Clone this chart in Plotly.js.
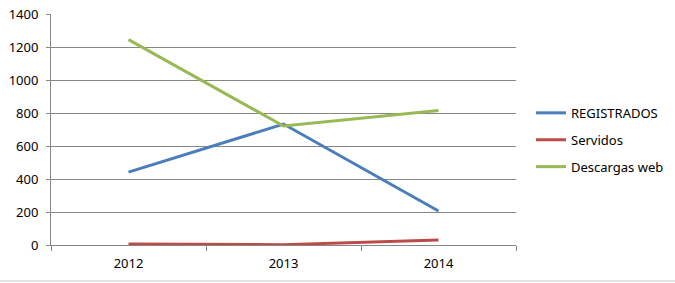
<!DOCTYPE html>
<html><head><meta charset="utf-8">
<script src="https://cdn.plot.ly/plotly-3.0.1.min.js"></script>
<style>html,body{margin:0;padding:0;background:#fff}#c{width:675px;height:283px}</style>
</head><body><div id="c"></div>
<script>
const years = ['2012', '2013', '2014'];
const registrados = [442, 733, 206];
const servidos = [6, 2, 30];
const descargas = [1245, 721, 815];
const seriesNames = ['REGISTRADOS', 'Servidos', 'Descargas web'];
const yTicks = [0, 200, 400, 600, 800, 1000, 1200, 1400];

const colors = ['#4A7EBB', '#BE4B48', '#98B954'];
const vals = [registrados, servidos, descargas];
const traces = vals.map((v, i) => ({
  type: 'scatter', mode: 'lines', x: years, y: v, name: seriesNames[i],
  legendgroup: 'g' + i,
  line: {color: colors[i], width: 3}
}));
const W = 675, H = 283, ml = 51, mr = 159, mt = 14, mb = 38;
const pw = W - ml - mr, ph = H - mt - mb;
const layout = {
  width: W, height: H,
  margin: {l: ml, r: mr, t: mt, b: mb, pad: 0, autoexpand: false},
  paper_bgcolor: '#fff', plot_bgcolor: '#fff',
  font: {family: 'Noto Sans, Liberation Sans, sans-serif', size: 13, color: '#000'},
  showlegend: true,
  legend: {x: (531 - ml) / pw, xanchor: 'left', y: 0.455, yanchor: 'middle',
    traceorder: 'grouped', tracegroupgap: 7, font: {size: 13, color: '#000'},
    bgcolor: 'rgba(0,0,0,0)', itemwidth: 30},
  xaxis: {type: 'category', range: [-0.5, 2.5], showgrid: false, zeroline: false,
    showline: true, linecolor: '#868686', linewidth: 1,
    ticks: 'outside', tickson: 'boundaries', ticklen: 5, tickcolor: '#868686',
    ticklabelstandoff: 6, tickfont: {size: 13}, fixedrange: true},
  yaxis: {range: [0, 1400], tickvals: yTicks, ticktext: yTicks.map(String),
    showgrid: true, gridcolor: '#868686', gridwidth: 1, zeroline: false,
    showline: true, linecolor: '#868686', linewidth: 1,
    ticks: 'outside', ticklen: 4, tickcolor: '#868686', ticklabelstandoff: 5,
    tickfont: {size: 13}, fixedrange: true},
  shapes: [{type: 'line', xref: 'paper', yref: 'paper',
    x0: -ml / pw, x1: (W - ml) / pw, y0: -(mb - 2) / ph, y1: -(mb - 2) / ph,
    line: {color: '#C8C8C8', width: 1}}]
};
Plotly.newPlot('c', traces, layout, {displayModeBar: false, staticPlot: true});
</script></body></html>
